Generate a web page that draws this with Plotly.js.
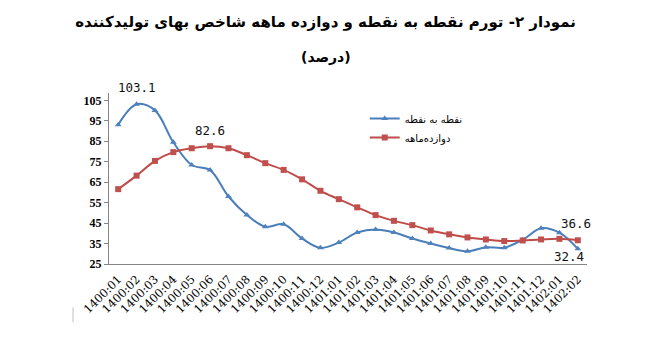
<!DOCTYPE html>
<html>
<head>
<meta charset="utf-8">
<script src="https://cdn.plot.ly/plotly-3.0.1.min.js"></script>
<style>html,body{margin:0;padding:0;background:#fff;}#chart{width:651px;height:355px;}</style>
</head>
<body>
<div id="chart"></div>
<script>
const categories = ["1400:01","1400:02","1400:03","1400:04","1400:05","1400:06","1400:07","1400:08","1400:09","1400:10","1400:11","1400:12","1401:01","1401:02","1401:03","1401:04","1401:05","1401:06","1401:07","1401:08","1401:09","1401:10","1401:11","1401:12","1402:01","1402:02"];
const pointToPoint = [93.1,103.1,100.1,84.5,73.4,70.9,58.0,49.0,43.2,44.4,37.5,32.9,35.5,40.4,41.9,40.4,37.5,35.0,32.8,31.2,33.2,33.0,36.8,42.5,40.3,32.4];
const twelveMonth = [61.6,68.2,75.4,79.7,81.6,82.6,81.6,78.2,74.3,71.0,66.4,60.8,56.7,52.7,48.9,46.1,44.0,41.4,39.5,38.0,37.0,36.2,36.5,37.0,37.3,36.6];
const seriesNames = ["نقطه به نقطه", "دوازده‌ماهه"];
const yTicks = [25,35,45,55,65,75,85,95,105];
const titleLine1 = "نمودار ۲- تورم نقطه به نقطه و دوازده ماهه شاخص بهای تولیدکننده";
const titleLine2 = "(درصد)";
// labelled points: [series, category index]
const labelled = [["p",1],["t",5],["t",25],["p",25]];
const labelOffsets = [[0,-17],[0,-16],[-2,-17],[-9,8]];

const traces = [
  {x: categories, y: pointToPoint, name: seriesNames[0], type: "scatter", mode: "lines+markers",
   line: {color: "#4A7EBB", width: 2, shape: "spline", smoothing: 1},
   marker: {symbol: "triangle-up", size: 6, color: "#4F81BD"}},
  {x: categories, y: twelveMonth, name: seriesNames[1], type: "scatter", mode: "lines+markers",
   line: {color: "#BE4B48", width: 2, shape: "spline", smoothing: 1},
   marker: {symbol: "square", size: 6, color: "#C0504D"}}
];

const annotations = labelled.map((l, i) => {
  const arr = l[0] === "p" ? pointToPoint : twelveMonth;
  return {x: categories[l[1]], y: arr[l[1]], xref: "x", yref: "y", text: arr[l[1]].toFixed(1),
    showarrow: false, xshift: labelOffsets[i][0], yshift: -labelOffsets[i][1],
    font: {family: "DejaVu Sans Mono", size: 12.5, color: "#111"}};
});
annotations.push({text: titleLine2, xref: "paper", yref: "paper", x: 0.455, y: 1.0, yanchor: "middle",
  yshift: 36, showarrow: false, font: {family: "DejaVu Sans", size: 14, weight: 700, color: "#000"}});

const layout = {
  width: 651, height: 355,
  margin: {l: 109, r: 64, t: 93, b: 91},
  paper_bgcolor: "#fff", plot_bgcolor: "#fff",
  title: {text: titleLine1, x: 0.5, xanchor: "center", y: 0.94, yanchor: "middle",
    font: {family: "DejaVu Sans", size: 15, weight: 700, color: "#000"}},
  showlegend: true,
  legend: {x: 0.535, y: 0.935, xanchor: "left", yanchor: "top", bgcolor: "rgba(0,0,0,0)",
    font: {family: "DejaVu Sans", size: 10, color: "#000"}, itemwidth: 30},
  xaxis: {type: "category", range: [-0.5, 25.5], showline: true, linecolor: "#868686", linewidth: 1,
    ticks: "", showgrid: false, zeroline: false, tickangle: -45, ticklabelstandoff: 3,
    tickfont: {family: "DejaVu Serif", size: 11.5, color: "#000"}},
  yaxis: {range: [25, 108.6], tickvals: yTicks, showline: true, linecolor: "#868686", linewidth: 1,
    ticks: "outside", ticklen: 4, tickcolor: "#868686", showgrid: false, zeroline: false,
    tickfont: {family: "Liberation Serif", size: 12, weight: 700, color: "#000"}},
  annotations: annotations,
  shapes: [{type: "line", xref: "paper", yref: "paper", x0: -0.0753, x1: -0.0753, y0: -0.254, y1: -0.342,
    line: {color: "#c0c0c0", width: 1}}]
};
Plotly.newPlot("chart", traces, layout, {displayModeBar: false, staticPlot: true});
</script>
</body>
</html>
